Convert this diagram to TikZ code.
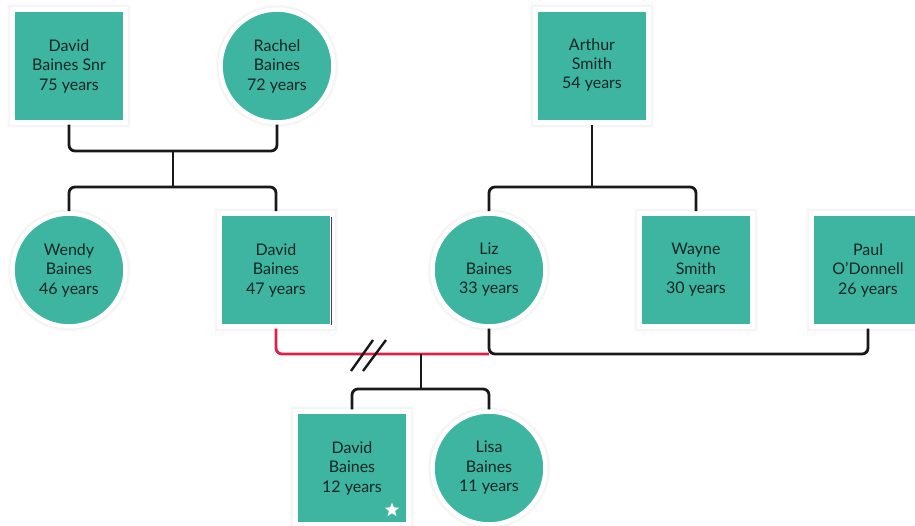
\documentclass[tikz,border=0pt]{standalone}
\usepackage{fontspec}
\setmainfont{Lato}
\usetikzlibrary{shapes.geometric,shadows}
\definecolor{teal1}{RGB}{61,181,160}
\definecolor{txt}{RGB}{22,38,36}
\definecolor{redl}{RGB}{222,32,72}
\definecolor{purp}{RGB}{90,50,110}
\tikzset{
  halo/.style={drop shadow={opacity=0.03, shadow xshift=0pt, shadow yshift=0pt, shadow scale=#1}},
  person/.style={fill=teal1, draw=white, line width=4.5pt, text=txt, align=center,
     font=\fontsize{16}{19.5}\selectfont,
     halo=1.09, halo=1.075, halo=1.06, halo=1.048},
  male/.style={person, rectangle, minimum width=113pt, minimum height=113pt, inner sep=0pt},
  female/.style={person, circle, minimum size=113pt, inner sep=0pt},
  conn/.style={draw=black!90, line width=2.8pt, rounded corners=6pt},
  divconn/.style={draw=redl, line width=2.8pt, rounded corners=6pt},
  slash/.style={draw=black!90, line width=2.4pt}
}
\begin{document}
\begin{tikzpicture}[x=1pt,y=-1pt]
\useasboundingbox (0,0) rectangle (915,526);
% nodes
\node[male]   (snr)    at (69,66)  {David\\Baines Snr\\75 years};
\node[female] (rachel) at (277,66) {Rachel\\Baines\\72 years};
\node[male]   (arthur) at (592,66) {\raisebox{4pt}{\begin{tabular}{@{}c@{}}Arthur\\[-0.5pt]Smith\\[-0.5pt]54 years\end{tabular}}};
\node[female] (wendy)  at (69,270) {Wendy\\Baines\\46 years};
\node[male]   (david)  at (276,270) {David\\Baines\\47 years};
\node[female] (liz)    at (489,270) {Liz\\Baines\\33 years};
\node[male]   (wayne)  at (696,270) {Wayne\\Smith\\30 years};
\node[male]   (paul)   at (868,270) {Paul\\O'Donnell\\26 years};
\node[male]   (dj)     at (352,468) {David\\Baines\\12 years};
\node[female] (lisa)   at (489,468) {Lisa\\Baines\\11 years};
\node[star, star points=5, star point ratio=2.3, fill=white, minimum size=15pt, inner sep=0pt] (star) at (392,510) {};
\draw[purp, line width=0.9pt] (331.5,217) -- (331.5,325);
% junctions
\coordinate (j1) at (173,151);
\coordinate (b1) at (173,187);
\coordinate (b2) at (592,187);
\coordinate (m1) at (489,354);
\coordinate (m2) at (421,354);
\coordinate (b3) at (421,389);
\coordinate (s1a) at (351,371); \coordinate (s1b) at (373,340);
\coordinate (s2a) at (363,371); \coordinate (s2b) at (386,340);
% connectors
\draw[conn] (snr.south) |- (j1) -| (rachel.south);
\draw[conn] (j1) -- (b1);
\draw[conn] (wendy.north) |- (b1) -| (david.north);
\draw[conn] (arthur.south) -- (b2);
\draw[conn] (liz.north) |- (b2) -| (wayne.north);
\draw[divconn] (david.south) |- (m1);
\draw[conn] (liz.south) -- (m1) -| (paul.south);
\draw[conn] (m2) -- (b3);
\draw[conn] (dj.north) |- (b3) -| (lisa.north);
\draw[slash] (s1a) -- (s1b);
\draw[slash] (s2a) -- (s2b);
\end{tikzpicture}
\end{document}
